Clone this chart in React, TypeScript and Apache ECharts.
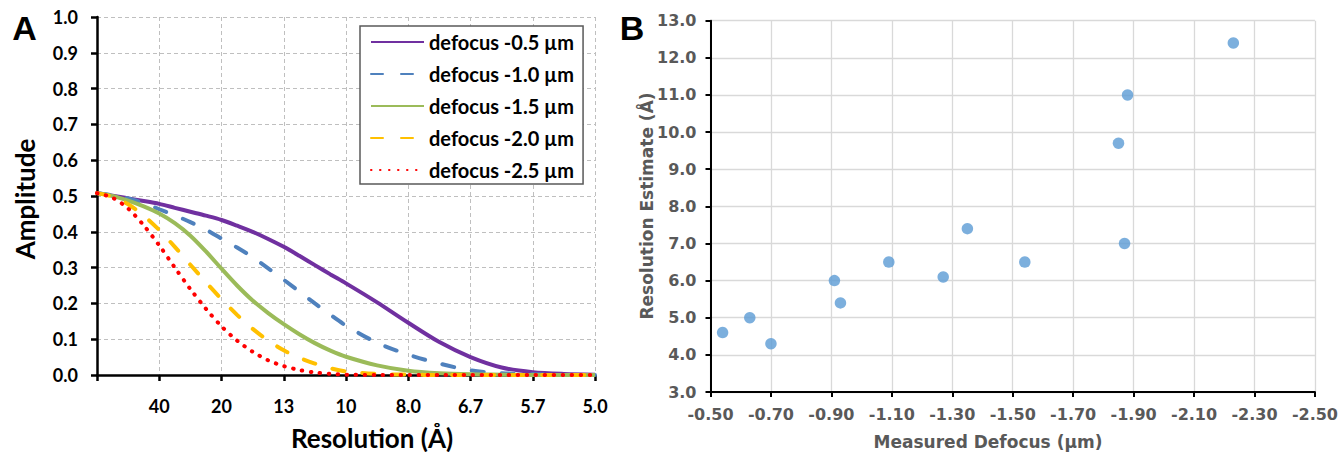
import React, { useEffect, useRef } from "react";
import * as echarts from "echarts";

// ---------- Panel A data (spatial frequency in 1/Å) ----------
const spatialFreq = [
  0, 0.00625, 0.0125, 0.01875, 0.025, 0.03125, 0.0375, 0.04375, 0.05, 0.05625,
  0.0625, 0.06875, 0.075, 0.08125, 0.0875, 0.09375, 0.1, 0.1125, 0.125, 0.1375,
  0.15, 0.1625, 0.175, 0.1875, 0.2,
];
const resolutionTickLabels = ["", "40", "20", "13", "10", "8.0", "6.7", "5.7", "5.0"];
const amplitudeTicks = [0, 1];

const ampDefocus05 = [
  0.508, 0.501, 0.493, 0.486, 0.478, 0.467, 0.456, 0.445, 0.433, 0.417, 0.4, 0.38,
  0.358, 0.333, 0.307, 0.281, 0.256, 0.203, 0.146, 0.092, 0.05, 0.021, 0.008, 0.003, 0.001,
];
const ampDefocus10 = [
  0.508, 0.502, 0.493, 0.48, 0.463, 0.446, 0.427, 0.406, 0.381, 0.356, 0.329, 0.298,
  0.266, 0.233, 0.2, 0.168, 0.138, 0.09, 0.057, 0.032, 0.013, 0.005, 0.002, 0, 0,
];
const ampDefocus15 = [
  0.508, 0.5, 0.487, 0.471, 0.451, 0.424, 0.389, 0.345, 0.297, 0.25, 0.208, 0.173,
  0.142, 0.114, 0.089, 0.068, 0.051, 0.027, 0.012, 0.005, 0.002, 0.001, 0, 0, 0,
];
const ampDefocus20 = [
  0.508, 0.498, 0.477, 0.445, 0.405, 0.358, 0.308, 0.259, 0.212, 0.168, 0.129, 0.096,
  0.069, 0.048, 0.032, 0.019, 0.01, 0.003, 0.001, 0, 0, 0, 0, 0, 0,
];
const ampDefocus25 = [
  0.508, 0.495, 0.465, 0.418, 0.362, 0.3, 0.24, 0.185, 0.136, 0.096, 0.065, 0.041,
  0.025, 0.014, 0.007, 0.003, 0.001, 0, 0, 0, 0, 0, 0, 0, 0,
];
const seriesNamesA = [
  "defocus -0.5 µm",
  "defocus -1.0 µm",
  "defocus -1.5 µm",
  "defocus -2.0 µm",
  "defocus -2.5 µm",
];

// ---------- Panel B data ----------
const measuredDefocus = [-0.54, -0.63, -0.7, -0.91, -0.93, -1.09, -1.27, -1.35, -1.54, -1.85, -1.87, -1.88, -2.23];
const resolutionEstimate = [4.6, 5.0, 4.3, 6.0, 5.4, 6.5, 6.1, 7.4, 6.5, 9.7, 7.0, 11.0, 12.4];

const FONT_A = "Lato";
const FONT_B = "DejaVu Sans";

export default function App() {
  const ref = useRef<HTMLDivElement>(null);

  useEffect(() => {
    if (!ref.current) return;
    const chart = echarts.init(ref.current, null, { renderer: "svg" });

    const ampSets = [ampDefocus05, ampDefocus10, ampDefocus15, ampDefocus20, ampDefocus25];
    const styles = [
      { color: "#7030a0", type: "solid" as any, width: 4, cap: "butt" },
      { color: "#4f81bd", type: [12, 18], width: 4, cap: "round" },
      { color: "#9bbb59", type: "solid" as any, width: 4, cap: "butt" },
      { color: "#ffc000", type: [12, 18], width: 4, cap: "round" },
      { color: "#ff0000", type: [0.5, 8.5], width: 4, cap: "round" },
    ];

    const lineSeries = seriesNamesA.map((name, i) => ({
      name,
      type: "line",
      xAxisIndex: 0,
      yAxisIndex: 0,
      showSymbol: false,
      symbol: "none",
      smooth: 0.3,
      color: styles[i].color,
      lineStyle: {
        color: styles[i].color,
        width: styles[i].width,
        type: styles[i].type,
        cap: styles[i].cap,
      },
      data: spatialFreq.map((f, k) => [f, ampSets[i][k]]),
    }));

    const centered = {
      align: "center",
      verticalAlign: "middle",
      textAlign: "center",
      textVerticalAlign: "middle",
    };

    const option: any = {
      animation: false,
      backgroundColor: "#ffffff",
      grid: [
        { left: 97, top: 17, width: 498, height: 358, containLabel: false },
        { left: 710.5, top: 20.7, width: 609, height: 371.3, containLabel: false },
      ],
      legend: {
        orient: "vertical",
        left: 360,
        top: 26,
        itemWidth: 53,
        itemHeight: 14,
        itemGap: 12,
        padding: [6, 9, 4, 10],
        backgroundColor: "#ffffff",
        borderColor: "#595959",
        borderWidth: 1.5,
        itemStyle: { opacity: 0 },
        textStyle: { fontFamily: FONT_A, fontWeight: "bold", fontSize: 20, color: "#000", lineHeight: 20 },
        data: seriesNamesA,
      },
      xAxis: [
        {
          gridIndex: 0,
          type: "value",
          min: 0,
          max: 0.2,
          interval: 0.025,
          axisLine: { show: true, onZero: false, lineStyle: { color: "#000", width: 2.5 } },
          axisTick: { show: true, length: 6, lineStyle: { color: "#000", width: 2.5 } },
          axisLabel: {
            showMinLabel: true,
            showMaxLabel: true,
            margin: 22,
            fontFamily: FONT_A,
            fontWeight: "bold",
            fontSize: 18,
            color: "#000",
            formatter: (v: number) => resolutionTickLabels[Math.round(v / 0.025)] ?? "",
          },
          splitLine: { show: true, lineStyle: { color: "#bfbfbf", type: [4, 3], width: 1 } },
        },
        {
          gridIndex: 1,
          type: "value",
          min: -2.5,
          max: -0.5,
          interval: 0.2,
          inverse: true,
          axisLine: { show: true, onZero: false, lineStyle: { color: "#000", width: 2 } },
          axisTick: { show: true, length: 5, lineStyle: { color: "#000", width: 2 } },
          axisLabel: {
            showMinLabel: true,
            showMaxLabel: true,
            margin: 14,
            fontFamily: FONT_B,
            fontWeight: "bold",
            fontSize: 16,
            color: "#595959",
            formatter: (v: number) => v.toFixed(2),
          },
          splitLine: { show: true, lineStyle: { color: "#d9d9d9", width: 1.3 } },
        },
      ],
      yAxis: [
        {
          gridIndex: 0,
          type: "value",
          min: amplitudeTicks[0],
          max: amplitudeTicks[1],
          interval: 0.1,
          axisLine: { show: true, onZero: false, lineStyle: { color: "#000", width: 2.5 } },
          axisTick: { show: true, length: 6, lineStyle: { color: "#000", width: 2.5 } },
          axisLabel: {
            margin: 19,
            fontFamily: FONT_A,
            fontWeight: "bold",
            fontSize: 18,
            color: "#000",
            formatter: (v: number) => v.toFixed(1),
          },
          splitLine: { show: true, lineStyle: { color: "#bfbfbf", type: [4, 3], width: 1 } },
        },
        {
          gridIndex: 1,
          type: "value",
          min: 3,
          max: 13,
          interval: 1,
          axisLine: { show: true, onZero: false, lineStyle: { color: "#000", width: 2 } },
          axisTick: { show: true, length: 5, lineStyle: { color: "#000", width: 2 } },
          axisLabel: {
            margin: 14,
            fontFamily: FONT_B,
            fontWeight: "bold",
            fontSize: 16,
            color: "#595959",
            formatter: (v: number) => v.toFixed(1),
          },
          splitLine: { show: true, lineStyle: { color: "#d9d9d9", width: 1.3 } },
        },
      ],
      series: [
        ...lineSeries,
        {
          name: "Resolution Estimate",
          type: "scatter",
          xAxisIndex: 1,
          yAxisIndex: 1,
          symbol: "circle",
          symbolSize: 11.5,
          itemStyle: { color: "#5b9bd5" },
          data: measuredDefocus.map((d, i) => [d, resolutionEstimate[i]]),
        },
      ],
      graphic: [
        {
          type: "text",
          x: 24.5,
          y: 27.5,
          style: { text: "A", font: "bold 34px 'Liberation Sans', Arial, sans-serif", fill: "#000", ...centered },
        },
        {
          type: "text",
          x: 632,
          y: 27.5,
          style: { text: "B", font: "bold 34px 'Liberation Sans', Arial, sans-serif", fill: "#000", ...centered },
        },
        {
          type: "text",
          x: 25,
          y: 199,
          rotation: Math.PI / 2,
          style: { text: "Amplitude", font: "bold 26px Lato, sans-serif", fill: "#000", ...centered },
        },
        {
          type: "text",
          x: 372,
          y: 437.5,
          style: { text: "Resolution (Å)", font: "bold 26px Lato, sans-serif", fill: "#000", ...centered },
        },
        {
          type: "text",
          x: 647,
          y: 206,
          rotation: Math.PI / 2,
          style: {
            text: "Resolution Estimate (Å)",
            font: "bold 17px 'DejaVu Sans', sans-serif",
            fill: "#595959",
            ...centered,
          },
        },
        {
          type: "text",
          x: 988,
          y: 441.5,
          style: {
            text: "Measured Defocus (µm)",
            font: "bold 17px 'DejaVu Sans', sans-serif",
            fill: "#595959",
            ...centered,
          },
        },
      ],
    };

    chart.setOption(option);
    return () => chart.dispose();
  }, []);

  return (
    <div
      ref={ref}
      style={{ position: "absolute", left: 0, top: 0, width: 1341, height: 452, background: "#fff" }}
    />
  );
}
